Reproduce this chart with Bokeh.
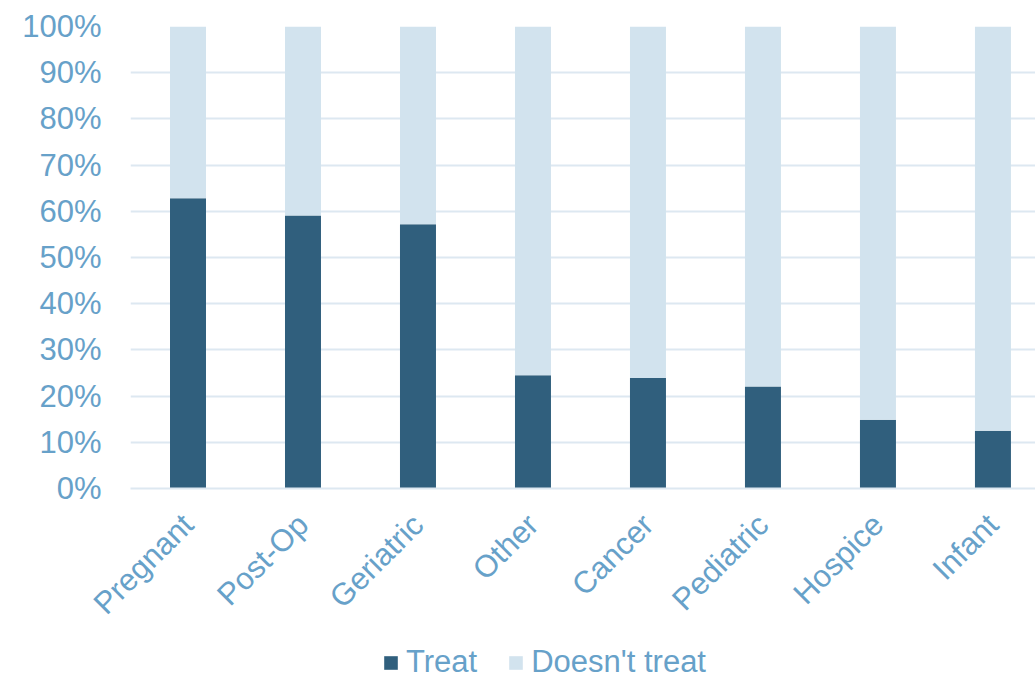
import math
from bokeh.plotting import figure
from bokeh.layouts import column
from bokeh.models import (ColumnDataSource, Range1d, FixedTicker, PrintfTickFormatter,
                          Legend, LegendItem)
from bokeh.embed import file_html
from bokeh.resources import INLINE

categories = ["Pregnant", "Post-Op", "Geriatric", "Other", "Cancer", "Pediatric", "Hospice", "Infant"]
treat = [62.8, 59.1, 57.2, 24.5, 23.9, 22.1, 14.9, 12.5]
doesnt_treat = [100 - v for v in treat]
y_ticks = [0, 10, 20, 30, 40, 50, 60, 70, 80, 90, 100]
series_names = ["Treat", "Doesn't treat"]

DARK = "#305F7D"
LIGHT = "#D2E3EE"
TEXT = "#67A1C9"
GRID = "#DDE8F1"
FONT = "Liberation Sans"
FS = "31px"

xpos = [i + 0.5 for i in range(len(categories))]
src = ColumnDataSource(dict(x=xpos, cat=categories, treat=treat, doesnt=doesnt_treat))

p = figure(width=1035, height=636, output_backend="svg", toolbar_location=None,
           x_range=Range1d(0, 7.87), y_range=Range1d(0, 100),
           min_border_left=130, min_border_right=0, min_border_top=26, min_border_bottom=148)
p.outline_line_color = None
p.background_fill_color = "white"

rs = p.vbar_stack(["treat", "doesnt"], x="x", width=0.313, color=[DARK, LIGHT],
                  line_color=None, source=src)

# axes
p.yaxis.ticker = FixedTicker(ticks=y_ticks)
p.yaxis.formatter = PrintfTickFormatter(format="%d%%")
p.yaxis.axis_line_color = None
p.yaxis.major_tick_line_color = None
p.yaxis.minor_tick_line_color = None
p.yaxis.major_label_text_font = FONT
p.yaxis.major_label_text_font_size = FS
p.yaxis.major_label_text_color = TEXT
p.yaxis.major_label_standoff = 23

p.xaxis.ticker = FixedTicker(ticks=xpos)
p.xaxis.major_label_overrides = {x: c for x, c in zip(xpos, categories)}
p.xaxis.major_label_orientation = math.pi / 4
p.xaxis.axis_line_color = GRID
p.xaxis.axis_line_width = 2
p.xaxis.major_tick_line_color = None
p.xaxis.minor_tick_line_color = None
p.xaxis.major_label_text_font = FONT
p.xaxis.major_label_text_font_size = FS
p.xaxis.major_label_text_color = TEXT
p.xaxis.major_label_standoff = 25

p.xgrid.grid_line_color = None
p.ygrid.grid_line_color = GRID
p.ygrid.grid_line_width = 2

# legend strip (its own stacked bars lie outside its visible range; only the legend shows)
lg = figure(width=1035, height=44, output_backend="svg", toolbar_location=None,
            x_range=Range1d(-20, -19), y_range=Range1d(0, 1),
            min_border_left=0, min_border_right=0, min_border_top=0, min_border_bottom=0)
lg.outline_line_color = None
lg.axis.visible = False
lg.grid.visible = False
lrs = lg.vbar_stack(["treat", "doesnt"], x="x", width=0.313, color=[DARK, LIGHT],
                    line_color=None, source=src)
legend = Legend(items=[LegendItem(label=series_names[0], renderers=[lrs[0]]),
                       LegendItem(label=series_names[1], renderers=[lrs[1]])],
                orientation="horizontal", location=(252, 0),
                glyph_width=17, glyph_height=17, label_standoff=7, spacing=30,
                padding=0, margin=0, border_line_color=None, background_fill_alpha=0,
                label_text_font=FONT, label_text_font_size=FS, label_text_color=TEXT)
lg.add_layout(legend, "center")

open("out.html", "w").write(file_html(column(p, lg, spacing=0), INLINE))
